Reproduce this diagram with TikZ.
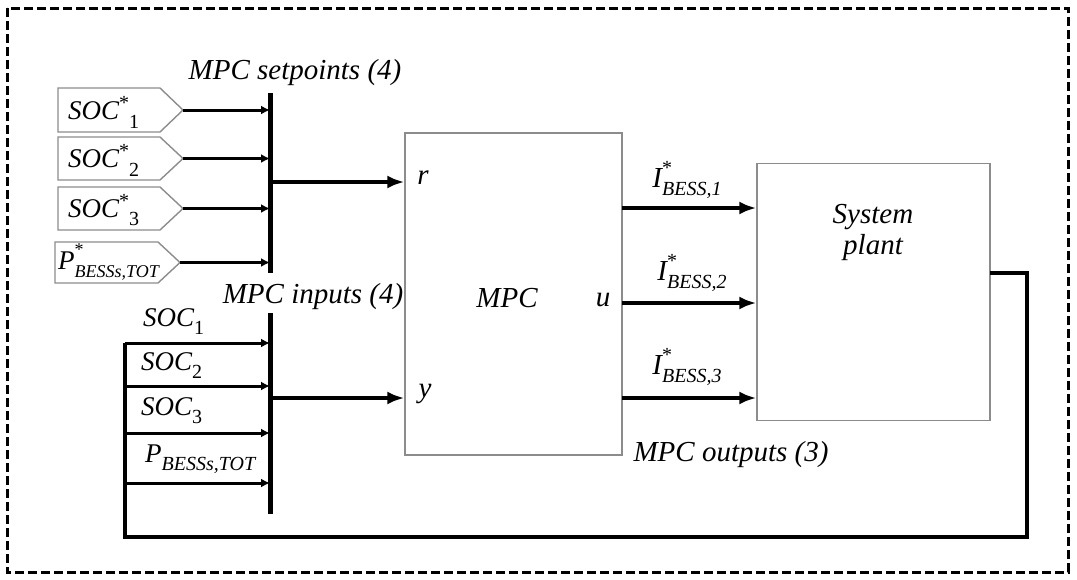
\documentclass[tikz,border=0pt]{standalone}
\usepackage{fontspec}
\setmainfont{Liberation Serif}
\usetikzlibrary{arrows.meta}
\newcommand{\labfont}{\fontsize{29}{32}\selectfont\itshape}
\newcommand{\boxfont}{\fontsize{27}{30}\selectfont\itshape}
\newcommand{\subfont}{\fontsize{20}{20}\selectfont}
\newcommand{\smsubfont}{\fontsize{18}{18}\selectfont}
\newcommand{\lowsub}[1]{\raisebox{-0.3em}{\subfont #1}}
\newcommand{\stk}[2]{\rlap{\raisebox{0.45em}{\subfont\upshape #1}}\raisebox{-0.3em}{\subfont\itshape #2}}
\newcommand{\smstk}[2]{\rlap{\raisebox{0.5em}{\smsubfont\upshape #1}}\raisebox{-0.3em}{\smsubfont\itshape #2}}
\begin{document}
\begin{tikzpicture}[x=1pt,y=-1pt,
  spline/.style={draw=black!45, line width=1.4pt, line join=miter},
  blockbox/.style={draw=black!45, line width=1.4pt, rectangle, inner sep=0pt},
  sarrow/.style={line width=3pt, -{Latex[length=9pt,width=9pt]}},
  barrow/.style={line width=3.4pt, -{Latex[length=17pt,width=13pt]}},
  busline/.style={line width=5pt},
  fbline/.style={line width=3.6pt},
  lab/.style={font=\labfont, inner sep=0pt},
  blab/.style={font=\boxfont, inner sep=0pt, anchor=west}]
\useasboundingbox (0,0) rectangle (1077,579);
\draw[line width=3pt, dash pattern=on 9pt off 4pt] (7,8) rectangle (1068,572);

% setpoint boxes
\draw[spline] (58,88) -- (160,88) -- (183,110) -- (160,132) -- (58,132) -- cycle;
\draw[spline] (58,137) -- (160,137) -- (183,158.5) -- (160,180) -- (58,180) -- cycle;
\draw[spline] (58,187) -- (160,187) -- (183,208.5) -- (160,230) -- (58,230) -- cycle;
\draw[spline] (55,242) -- (158,242) -- (180,262.5) -- (158,283) -- (55,283) -- cycle;
\coordinate (t1) at (183,110);
\coordinate (t2) at (183,158.5);
\coordinate (t3) at (183,208.5);
\coordinate (t4) at (180,262.5);
\node[blab] (s1) at (68,112) {SOC\raisebox{0.4em}{\subfont\upshape *}\lowsub{\upshape 1}};
\node[blab] (s2) at (68,160) {SOC\raisebox{0.4em}{\subfont\upshape *}\lowsub{\upshape 2}};
\node[blab] (s3) at (68,210) {SOC\raisebox{0.4em}{\subfont\upshape *}\lowsub{\upshape 3}};
\node[blab] (s4) at (58,262) {P\smstk{*}{BESSs,TOT}};

% setpoint bus
\coordinate (sbT) at (270,93);
\coordinate (sbB) at (270,273);
\coordinate (sbM) at (270,182);
\draw[busline] (sbT) -- (sbB);
\foreach \t in {t1,t2,t3,t4} \draw[sarrow] (\t) -- (\t -| sbT);
\node[lab] (lsp) at (295,73) {MPC setpoints (4)};

% MPC block
\node[blockbox, minimum width=217pt, minimum height=322pt] (mpc) at (513.5,294) {};
\node[lab] (lmpc) at (507,298) {MPC};
\node[lab] (lr) at (423,178) {r};
\node[lab] (ly) at (425,394) {y};
\node[lab] (lu) at (603,300) {u};
\draw[barrow] (sbM) -- (sbM -| mpc.west);

% input bus
\coordinate (ibT) at (270,313);
\coordinate (ibB) at (270,514);
\coordinate (ibM) at (270,398);
\draw[busline] (ibT) -- (ibB);
\node[lab] (lin) at (313,297) {MPC inputs (4)};
\coordinate (i1) at (125,343);
\coordinate (i2) at (125,386);
\coordinate (i3) at (125,433);
\coordinate (i4) at (125,483);
\coordinate (fbL) at (125,537);
\foreach \i in {i1,i2,i3,i4} \draw[sarrow] (\i) -- (\i -| ibT);
\node[blab] (ls1) at (143,322) {SOC\lowsub{\upshape 1}};
\node[blab] (ls2) at (141,366) {SOC\lowsub{\upshape 2}};
\node[blab] (ls3) at (141,411) {SOC\lowsub{\upshape 3}};
\node[blab] (ls4) at (145,459) {P\raisebox{-0.3em}{\subfont\itshape BESSs,TOT}};
\draw[barrow] (ibM) -- (ibM -| mpc.west);

% plant
\node[blockbox, minimum width=233pt, minimum height=257pt] (plant) at (873.5,292) {};
\node[lab, align=center] (lpl) at (873,232) {System\\[-1pt]plant};

% outputs
\coordinate (o1) at (622,208);
\coordinate (o2) at (622,303);
\coordinate (o3) at (622,398);
\foreach \o in {o1,o2,o3} \draw[barrow] (\o) -- (\o -| plant.west);
\node[lab] (lo1) at (687,180) {I\stk{*}{BESS,1}};
\node[lab] (lo2) at (692,273) {I\stk{*}{BESS,2}};
\node[lab] (lo3) at (687,367) {I\stk{*}{BESS,3}};
\node[lab] (lout) at (731,455) {MPC outputs (3)};

% feedback
\coordinate (fbA) at (990,273);
\coordinate (fbR) at (1027,273);
\coordinate (fbRB) at (1027,537);
\draw[fbline, line join=miter] (fbA) -- (fbR) -- (fbRB) -- (fbL) -- (i1);
\end{tikzpicture}
\end{document}
